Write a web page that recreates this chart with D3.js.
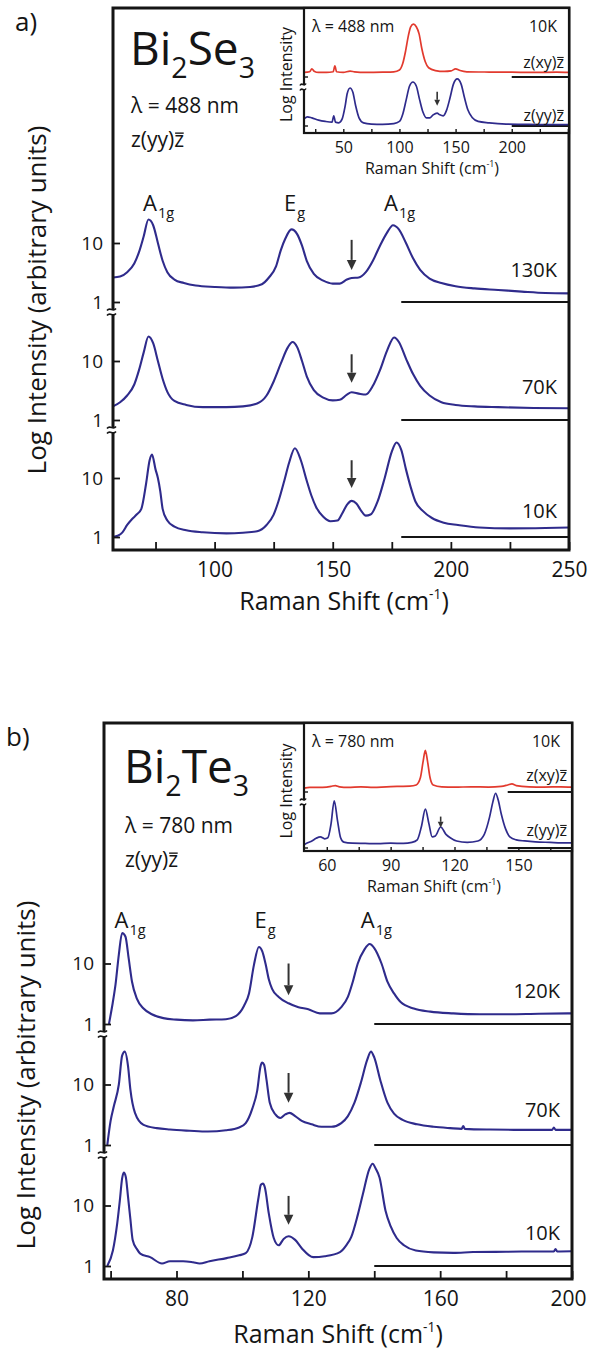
<!DOCTYPE html>
<html><head><meta charset="utf-8">
<script src="https://cdn.jsdelivr.net/npm/d3@7"></script>
<style>
body{margin:0;background:#fff}
text{font-family:'Open Sans',sans-serif;fill:#151515}
</style>
</head><body>
<svg id="c" width="589" height="1354"></svg>
<script>
// ---------------- DATA ----------------
// Panel a: Bi2Se3, main spectra [Raman shift cm^-1, intensity (log, arb.)]
const aTemps = ["130K", "70K", "10K"];
const aXTicksMajor = [100, 150, 200, 250];
const aXTicksMinor = [75, 125, 175, 225];
const a130K = [[57,2.6],[60,2.7],[63,3.2],[66,4.5],[68,7],[70,13],[72,25],[74,20],[76,10],[78,5],[80,3.2],[83,2.4],[87,2.1],[92,1.9],[100,1.8],[108,1.75],[115,1.8],[120,2.0],[123,2.6],[126,4],[128,7.5],[130,12],[132.5,17],[135,14],[137,9],[139,5],[142,3],[146,2.3],[150,2.05],[153,2.05],[156,2.4],[158,2.55],[161,2.6],[164,3.2],[167,5],[170,9],[173,15],[175.5,20],[178,17],[181,10],[184,5.5],[187,3.5],[191,2.5],[196,2.1],[202,1.85],[210,1.7],[220,1.6],[230,1.5],[240,1.42],[250,1.4]];
const a70K = [[57,1.7],[60,2.0],[63,2.6],[66,4],[68,7],[70,14],[72,26],[74,20],[76,10],[78,5],[80,3],[83,2.1],[88,1.8],[95,1.65],[105,1.65],[112,1.7],[118,1.9],[122,2.6],[125,4.5],[128,9],[131,17],[133,21],[135,17],[137,10],[139,5.5],[142,3.2],[146,2.4],[150,2.15],[153,2.2],[156,2.7],[158,2.95],[161,2.8],[164,2.7],[167,3.8],[170,7],[173,15],[176,25],[178,21],[181,11],[184,6],[187,3.8],[191,2.6],[196,2.0],[202,1.8],[210,1.7],[220,1.65],[235,1.6],[250,1.58]];
const a10K = [[57,1.0],[59,1.05],[61,1.2],[63,1.6],[65,2.0],[67,2.4],[69,3],[71,8],[72.5,20],[73.5,25],[75,14],[76,10],[77,6],[78,3],[80,1.9],[83,1.5],[88,1.3],[95,1.2],[105,1.15],[112,1.18],[118,1.25],[122,1.6],[125,2.4],[127,4],[129.5,9],[131.5,18],[134,32],[136.5,20],[139,9],[141,5],[143,3.2],[146,2.2],[149,1.85],[152,1.9],[154,2.5],[156,3.5],[158,4.1],[160,3.7],[162,2.8],[164,2.3],[166,2.4],[169,4],[172,10],[175,28],[177,40],[179,30],[181,14],[183,7],[185,4],[188,2.8],[192,2.1],[197,1.75],[203,1.6],[212,1.45],[225,1.4],[240,1.42],[250,1.45]];
// Panel a inset (10K, 488 nm)
const aInsetTicksMajor = [50, 100, 150, 200];
const aInsetTicksMinor = [25, 75, 125, 175, 225, 250];
const aInsetXY = [[15,1.3],[20,1.35],[22,1.6],[24,1.4],[28,1.3],[35,1.3],[41,1.35],[42.5,1.9],[44,1.35],[50,1.3],[56,1.4],[60,1.35],[70,1.3],[85,1.32],[95,1.35],[100,1.5],[103,2.2],[105.5,4.5],[108,11],[110,18],[112.5,21],[115,18],[117.5,12],[120,5],[123,2.4],[126,1.7],[132,1.45],[140,1.38],[146,1.42],[150,1.6],[154,1.45],[160,1.35],[180,1.33],[200,1.32],[220,1.3],[240,1.32],[251,1.3]];
const aInsetYY = [[15,1.5],[18,1.7],[22,1.6],[28,1.4],[34,1.3],[40,1.25],[41.5,1.8],[43,1.25],[46,1.2],[49,1.5],[51.5,3],[53.5,6.5],[56,8.9],[58.5,7],[61,3.2],[64,1.6],[68,1.2],[75,1.12],[85,1.1],[95,1.15],[100,1.3],[103,2],[106,4.5],[109,10],[112,12.6],[115,10],[118,4.5],[121,2.2],[124,1.6],[127,1.6],[130,1.9],[133.5,2.1],[136,1.9],[139,1.8],[142,2.5],[145,5],[148,11],[151.5,15],[155,11],[158,5],[161,2.5],[165,1.6],[170,1.3],[180,1.2],[195,1.12],[210,1.1],[230,1.08],[251,1.08]];

// Panel b: Bi2Te3
const bTemps = ["120K", "70K", "10K"];
const bXTicksMajor = [80, 120, 160, 200];
const bXTicksMinor = [60, 100, 140, 180];
const b120K = [[59.5,1.0],[60.5,2.0],[61.5,4.5],[62.5,14],[63.5,32],[64.5,28],[65.5,12],[66.5,5],[68,2.6],[70,1.8],[72.5,1.45],[76,1.25],[80,1.18],[85,1.15],[90,1.18],[95,1.2],[98,1.35],[100.5,2.0],[102,3.2],[103.5,9.5],[105,18.7],[106,16],[107,10],[108,5.5],[109,3.8],[111,2.8],[114,2.2],[117,1.9],[120,1.75],[123.5,1.5],[127,1.5],[130,1.9],[132,2.8],[133.5,5],[135,10],[137,17],[138.6,21],[140,18],[142.2,10],[144,5],[146,3.2],[148,2.3],[152,1.8],[157,1.6],[164,1.5],[172,1.45],[180,1.45],[190,1.48],[200,1.5]];
const b70K = [[59,1.0],[60,2.5],[61,4.4],[62.5,10],[63.5,30],[64.3,35],[65.3,20],[66,8.3],[67.4,3.4],[70,2.15],[74,1.9],[78,1.8],[84,1.72],[89.5,1.67],[95,1.75],[99,1.95],[101,2.3],[103,4],[104.5,8],[105.5,20],[106,23],[106.6,21],[107.3,12],[108.3,5],[110,3.2],[111.5,2.8],[113,3.2],[114.3,3.4],[116,3.0],[118,2.5],[121,2.2],[124,2.0],[127,2.0],[130,2.3],[132,3],[134,5],[136,11],[137.8,25],[139,35],[140,28],[141.8,12],[144,5],[146,3.3],[148.6,2.6],[153,2.2],[158,2.0],[163,1.9],[166.5,1.85],[167,2.05],[167.5,1.85],[175,1.8],[185,1.78],[194,1.78],[194.5,1.95],[195,1.78],[200,1.78]];
const b10K = [[59,1.0],[60.7,1.8],[62,5],[62.8,12],[63.5,28],[64,35],[64.6,30],[65.3,13.7],[66,6],[66.7,2.7],[68,1.9],[69,1.6],[72,1.4],[75.6,1.1],[78,1.2],[82,1.2],[85,1.15],[87,1.1],[90,1.2],[95.2,1.35],[99,1.5],[101,1.63],[103,3.0],[104.9,13.7],[105.6,22],[106.2,23],[106.8,20],[108,7.4],[109.5,2.9],[111,2.2],[112.5,2.8],[114,3.1],[116,2.7],[118,1.97],[121.5,1.4],[125,1.45],[129.6,1.7],[131.5,2.2],[133,3.0],[135,7],[136.5,15],[138.5,40],[139.5,49],[140.5,40],[141.6,29],[143.4,8.3],[145,4.5],[146.8,2.9],[149,2.2],[152.6,1.8],[158,1.68],[164,1.65],[170,1.7],[180,1.72],[190,1.74],[194.5,1.74],[195,1.9],[195.5,1.74],[200,1.75]];
// Panel b inset (10K, 780 nm)
const bInsetTicksMajor = [60, 90, 120, 150];
const bInsetTicksMinor = [75, 105, 135, 165];
const bInsetXY = [[49.3,1.25],[52,1.3],[56,1.3],[60,1.32],[62,1.38],[64,1.45],[66,1.35],[70,1.3],[76,1.35],[82,1.3],[88,1.35],[94,1.38],[99,1.4],[102,1.5],[104,2.3],[105.3,6],[106.3,11],[107.3,6],[108.5,2.3],[110,1.5],[114,1.35],[120,1.32],[128,1.35],[136,1.33],[142,1.38],[145,1.5],[147,1.6],[149,1.45],[155,1.35],[162,1.33],[170,1.35],[175.2,1.33]];
const bInsetYY = [[49.3,1.2],[51,1.35],[53,1.5],[55,1.75],[57,1.9],[59,1.7],[60.5,1.8],[62,4],[63.5,15.2],[65,5],[66.5,1.8],[68,1.4],[72,1.32],[78,1.3],[84,1.28],[90,1.32],[96,1.3],[100,1.38],[102.5,1.6],[104.5,3.5],[106.3,9.4],[108,4],[109.5,1.9],[111,2.0],[113.5,3.35],[116,2.2],[118,1.8],[121,1.5],[126,1.38],[131,1.5],[134,2.2],[136.5,6],[138,14],[139.3,23.4],[140.5,16],[142,7],[144,3],[146,1.9],[149,1.6],[153,1.5],[158,1.42],[165,1.38],[170,1.35],[175.2,1.35]];

// Arrows [shift, top intensity, bottom intensity] per sub-panel
const aArrows = [[158, 11.3, 3.5], [158, 13, 4.3], [158, 20, 6.8]];
const bArrows = [[114, 10, 3.0], [114, 15.5, 5], [114, 14.4, 4.8]];
const aInsetArrow = [133.6, 7.2, 3.2];
const bInsetArrow = [113.5, 6.1, 3.2];
// Peak labels [text, subscript, shift position]
const aPeaks = [["A", "1g", 69.7], ["E", "g", 129.4], ["A", "1g", 171.7]];
const bPeaks = [["A", "1g", 61.2], ["E", "g", 103.7], ["A", "1g", 135.9]];

// ---------------- DRAWING ----------------
const BLUE = "#2f2b8c", RED = "#e23a2e", INK = "#151515";
const svg = d3.select("#c");
svg.append("rect").attr("width", 589).attr("height", 1354).attr("fill", "#fff");

function rich(g, x, y, segs, size, anchor) {
  const t = g.append("text").attr("x", x).attr("y", y).attr("font-size", size)
    .attr("text-anchor", anchor || "start");
  let cur = 0;
  segs.forEach(s => {
    const off = s.sub ? size * (s.dy || 0.28) : s.sup ? -size * (s.dy || 0.42) : 0;
    t.append("tspan").attr("dy", off - cur)
      .attr("font-size", (s.sub || s.sup) ? size * (s.fs || 0.62) : size)
      .attr("dx", s.dx || 0)
      .text(s.t);
    cur = off;
  });
  return t;
}
// text ending with an over-barred z
function zbar(g, x, y, body, size, anchor) {
  const t = g.append("text").attr("x", x).attr("y", y).attr("font-size", size)
    .attr("text-anchor", anchor || "start").text(body + "z");
  const n = t.node(), k = body.length;
  const s = n.getStartPositionOfChar(k), e = n.getEndPositionOfChar(k);
  g.append("line").attr("x1", s.x + size * 0.04).attr("x2", e.x - size * 0.02)
    .attr("y1", y - size * 0.66).attr("y2", y - size * 0.66)
    .attr("stroke", INK).attr("stroke-width", size * 0.065);
}
function ramanLabel(g, cx, y, size) {
  rich(g, cx, y, [{t: "Raman Shift (cm"}, {t: "-1", sup: true, fs: 0.55, dy: 0.45}, {t: ")"}], size, "middle");
}
function breakMark(g, x, y, w) {
  w = w || 5;
  g.append("rect").attr("x", x - 3).attr("y", y - 3).attr("width", 6).attr("height", 6).attr("fill", "#fff");
  [-2.5, 2.5].forEach(o => {
    g.append("path")
      .attr("d", `M${x - w},${y + o + 1} C${x - w / 2},${y + o - 3} ${x},${y + o + 3} ${x + w / 2},${y + o - 1}`)
      .attr("fill", "none").attr("stroke", INK).attr("stroke-width", 1.6);
  });
}
function arrow(g, x, y1, y2, head, sw) {
  g.append("line").attr("x1", x).attr("x2", x).attr("y1", y1).attr("y2", y2 - head)
    .attr("stroke", "#333").attr("stroke-width", sw);
  g.append("path").attr("d", `M${x - head * 0.48},${y2 - head} L${x + head * 0.48},${y2 - head} L${x},${y2} Z`)
    .attr("fill", "#333");
}

function mainPanel(c) {
  const g = svg.append("g");
  const x = d3.scaleLinear().domain(c.xDomain).range([c.left, c.right]);
  const ys = c.ones.map(o => d3.scaleLog().domain([1, 10]).range([o, o - c.decade]));
  const clipId = "clip" + c.id;
  g.append("clipPath").attr("id", clipId).append("rect")
    .attr("x", c.left).attr("y", c.top).attr("width", c.right - c.left).attr("height", c.bottom - c.top);
  // zero lines
  ys.forEach(y => g.append("line").attr("x1", x(c.zeroFrom)).attr("x2", c.right)
    .attr("y1", y(1)).attr("y2", y(1)).attr("stroke", INK).attr("stroke-width", 2));
  // spectra
  c.series.forEach((s, i) => {
    g.append("path").datum(s).attr("clip-path", `url(#${clipId})`)
      .attr("d", d3.line().x(d => x(d[0])).y(d => ys[i](d[1])).curve(d3.curveMonotoneX))
      .attr("fill", "none").attr("stroke", BLUE).attr("stroke-width", 2.1).attr("stroke-linejoin", "round");
  });
  // bottom axis
  const ax = g.append("g").attr("transform", `translate(0,${c.bottom})`)
    .call(d3.axisBottom(x).tickValues(c.major.concat(c.minor)).tickSizeInner(-8).tickSizeOuter(0)
      .tickPadding(12).tickFormat(d => c.major.includes(d) ? d : ""));
  ax.select(".domain").remove();
  ax.selectAll("line").attr("stroke", INK).attr("stroke-width", 1.8);
  ax.selectAll("text").attr("font-size", 21).attr("font-family", null).attr("fill", INK)
    .attr("dx", d => d === c.xDomain[1] && c.right > 570 ? -4 : 0);
  // left axis per sub-panel
  ys.forEach(y => {
    const ay = g.append("g").attr("transform", `translate(${c.left},0)`)
      .call(d3.axisLeft(y).tickValues([1, 10]).tickSizeInner(-7).tickSizeOuter(0).tickPadding(10)
        .tickFormat(d3.format("d")));
    ay.select(".domain").remove();
    ay.selectAll("line").attr("stroke", INK).attr("stroke-width", 1.8);
    ay.selectAll("text").attr("font-size", 19).attr("font-family", null).attr("fill", INK);
  });
  // frame
  g.append("rect").attr("x", c.left).attr("y", c.top).attr("width", c.right - c.left).attr("height", c.bottom - c.top)
    .attr("fill", "none").attr("stroke", INK).attr("stroke-width", 3);
  // breaks
  ys.slice(0, -1).forEach(y => breakMark(g, c.left, y(1) + 10, 6));
  // arrows
  c.arrows.forEach((a, i) => arrow(g, x(a[0]), ys[i](a[1]), ys[i](a[2]), 10, 2));
  // peak labels
  c.peaks.forEach(p => rich(g, x(p[2]), c.peakY, [{t: p[0]}, {t: p[1], sub: true, fs: 0.66, dy: 0.3, dx: 1}], 22));
  // temperature labels
  c.temps.forEach((t, i) => g.append("text").attr("x", c.tempX).attr("y", c.tempY[i]).attr("text-anchor", "end")
    .attr("font-size", 20).text(t));
  // titles
  g.append("text").attr("transform", `translate(${c.yTitle[0]},${c.yTitle[1]}) rotate(-90)`)
    .attr("text-anchor", "middle").attr("font-size", 26).text("Log Intensity (arbitrary units)");
  ramanLabel(g, c.xTitle[0], c.xTitle[1], 25);
  g.append("text").attr("x", c.tag[0]).attr("y", c.tag[1]).attr("font-size", 26).text(c.tag[2]);
  rich(g, c.formula[0], c.formula[1], c.formula[2], 46);
  g.append("text").attr("x", c.formula[0] + 1).attr("y", c.lambdaY).attr("font-size", 21).text(c.lambda);
  zbar(g, c.formula[0] + 1, c.lambdaY + 34, "z(yy)", 21);
  return x;
}

function inset(c) {
  const g = svg.append("g");
  const x = d3.scaleLinear().domain(c.xDomain).range([c.left, c.right]);
  const ys = c.ones.map(o => d3.scaleLog().domain([1, 10]).range([o, o - 40]));
  g.append("rect").attr("x", c.left).attr("y", c.top).attr("width", c.right - c.left).attr("height", c.bottom - c.top)
    .attr("fill", "#fff");
  const clipId = "clip" + c.id;
  g.append("clipPath").attr("id", clipId).append("rect")
    .attr("x", c.left).attr("y", c.top).attr("width", c.right - c.left).attr("height", c.bottom - c.top);
  ys.forEach(y => g.append("line").attr("x1", x(c.zeroFrom)).attr("x2", c.right)
    .attr("y1", y(1)).attr("y2", y(1)).attr("stroke", INK).attr("stroke-width", 1.8));
  [[c.xy, RED], [c.yy, BLUE]].forEach((s, i) => {
    g.append("path").datum(s[0]).attr("clip-path", `url(#${clipId})`)
      .attr("d", d3.line().x(d => x(d[0])).y(d => ys[i](d[1])).curve(d3.curveMonotoneX))
      .attr("fill", "none").attr("stroke", s[1]).attr("stroke-width", 1.7);
  });
  const ax = g.append("g").attr("transform", `translate(0,${c.bottom})`)
    .call(d3.axisBottom(x).tickValues(c.major.concat(c.minor)).tickSizeInner(-4).tickSizeOuter(0)
      .tickPadding(9).tickFormat(d => c.major.includes(d) ? d : ""));
  ax.select(".domain").remove();
  ax.selectAll("line").attr("stroke", INK).attr("stroke-width", 1.4);
  ax.selectAll("text").attr("font-size", 16).attr("font-family", null).attr("fill", INK);
  ys.forEach(y => g.append("line").attr("x1", c.left).attr("x2", c.left + 4).attr("y1", y(1)).attr("y2", y(1))
    .attr("stroke", INK).attr("stroke-width", 1.4));
  g.append("rect").attr("x", c.left).attr("y", c.top).attr("width", c.right - c.left).attr("height", c.bottom - c.top)
    .attr("fill", "none").attr("stroke", INK).attr("stroke-width", 2.2);
  breakMark(g, c.left, ys[0](1) + 10, 4);
  arrow(g, x(c.arrow[0]), ys[1](c.arrow[1]), ys[1](c.arrow[2]), 6, 1.6);
  g.append("text").attr("transform", `translate(${c.left - 12},${(c.top + c.bottom) / 2 + 4}) rotate(-90)`)
    .attr("text-anchor", "middle").attr("font-size", 16).text("Log Intensity");
  g.append("text").attr("x", c.left + 8).attr("y", c.top + 24).attr("font-size", 16).text(c.lambda);
  g.append("text").attr("x", c.right - 12).attr("y", c.top + 24).attr("text-anchor", "end").attr("font-size", 16).text("10K");
  zbar(g, c.right - 5, c.labY[0], "z(xy)", 16, "end");
  zbar(g, c.right - 5, c.labY[1], "z(yy)", 16, "end");
  ramanLabel(g, c.xTitleX, c.bottom + 41, 16);
}

// Panel a
mainPanel({id: "a", xDomain: [57, 250], left: 113, right: 569, top: 8, bottom: 550,
  ones: [302, 420, 537], decade: 59, zeroFrom: 179, series: [a130K, a70K, a10K],
  major: aXTicksMajor, minor: aXTicksMinor, arrows: aArrows, peaks: aPeaks, peakY: 211,
  temps: aTemps, tempX: 557, tempY: [277, 394, 518], yTitle: [46, 300], xTitle: [344, 610],
  tag: [15, 31, "a)"], formula: [130, 65, [{t: "Bi"}, {t: "2", sub: true}, {t: "Se"}, {t: "3", sub: true}]],
  lambda: "λ = 488 nm", lambdaY: 113});
inset({id: "ai", xDomain: [15, 251], left: 304, right: 569, top: 8, bottom: 133, ones: [77, 126],
  zeroFrom: 200, xy: aInsetXY, yy: aInsetYY, major: aInsetTicksMajor, minor: aInsetTicksMinor,
  arrow: aInsetArrow, lambda: "λ = 488 nm", labY: [68, 121], xTitleX: 432});

// Panel b
mainPanel({id: "b", xDomain: [58, 200], left: 104, right: 572, top: 723, bottom: 1279,
  ones: [1024, 1145, 1266], decade: 60.5, zeroFrom: 140, series: [b120K, b70K, b10K],
  major: bXTicksMajor, minor: bXTicksMinor, arrows: bArrows, peaks: bPeaks, peakY: 928,
  temps: bTemps, tempX: 560, tempY: [998, 1117, 1240], yTitle: [35, 1075], xTitle: [338, 1343],
  tag: [6, 746, "b)"], formula: [124, 783, [{t: "Bi"}, {t: "2", sub: true}, {t: "Te"}, {t: "3", sub: true}]],
  lambda: "λ = 780 nm", lambdaY: 833});
inset({id: "bi", xDomain: [49.3, 175.2], left: 304, right: 572, top: 723, bottom: 851, ones: [792, 848],
  zeroFrom: 145, xy: bInsetXY, yy: bInsetYY, major: bInsetTicksMajor, minor: bInsetTicksMinor,
  arrow: bInsetArrow, lambda: "λ = 780 nm", labY: [781, 836], xTitleX: 434});
</script>
</body></html>
